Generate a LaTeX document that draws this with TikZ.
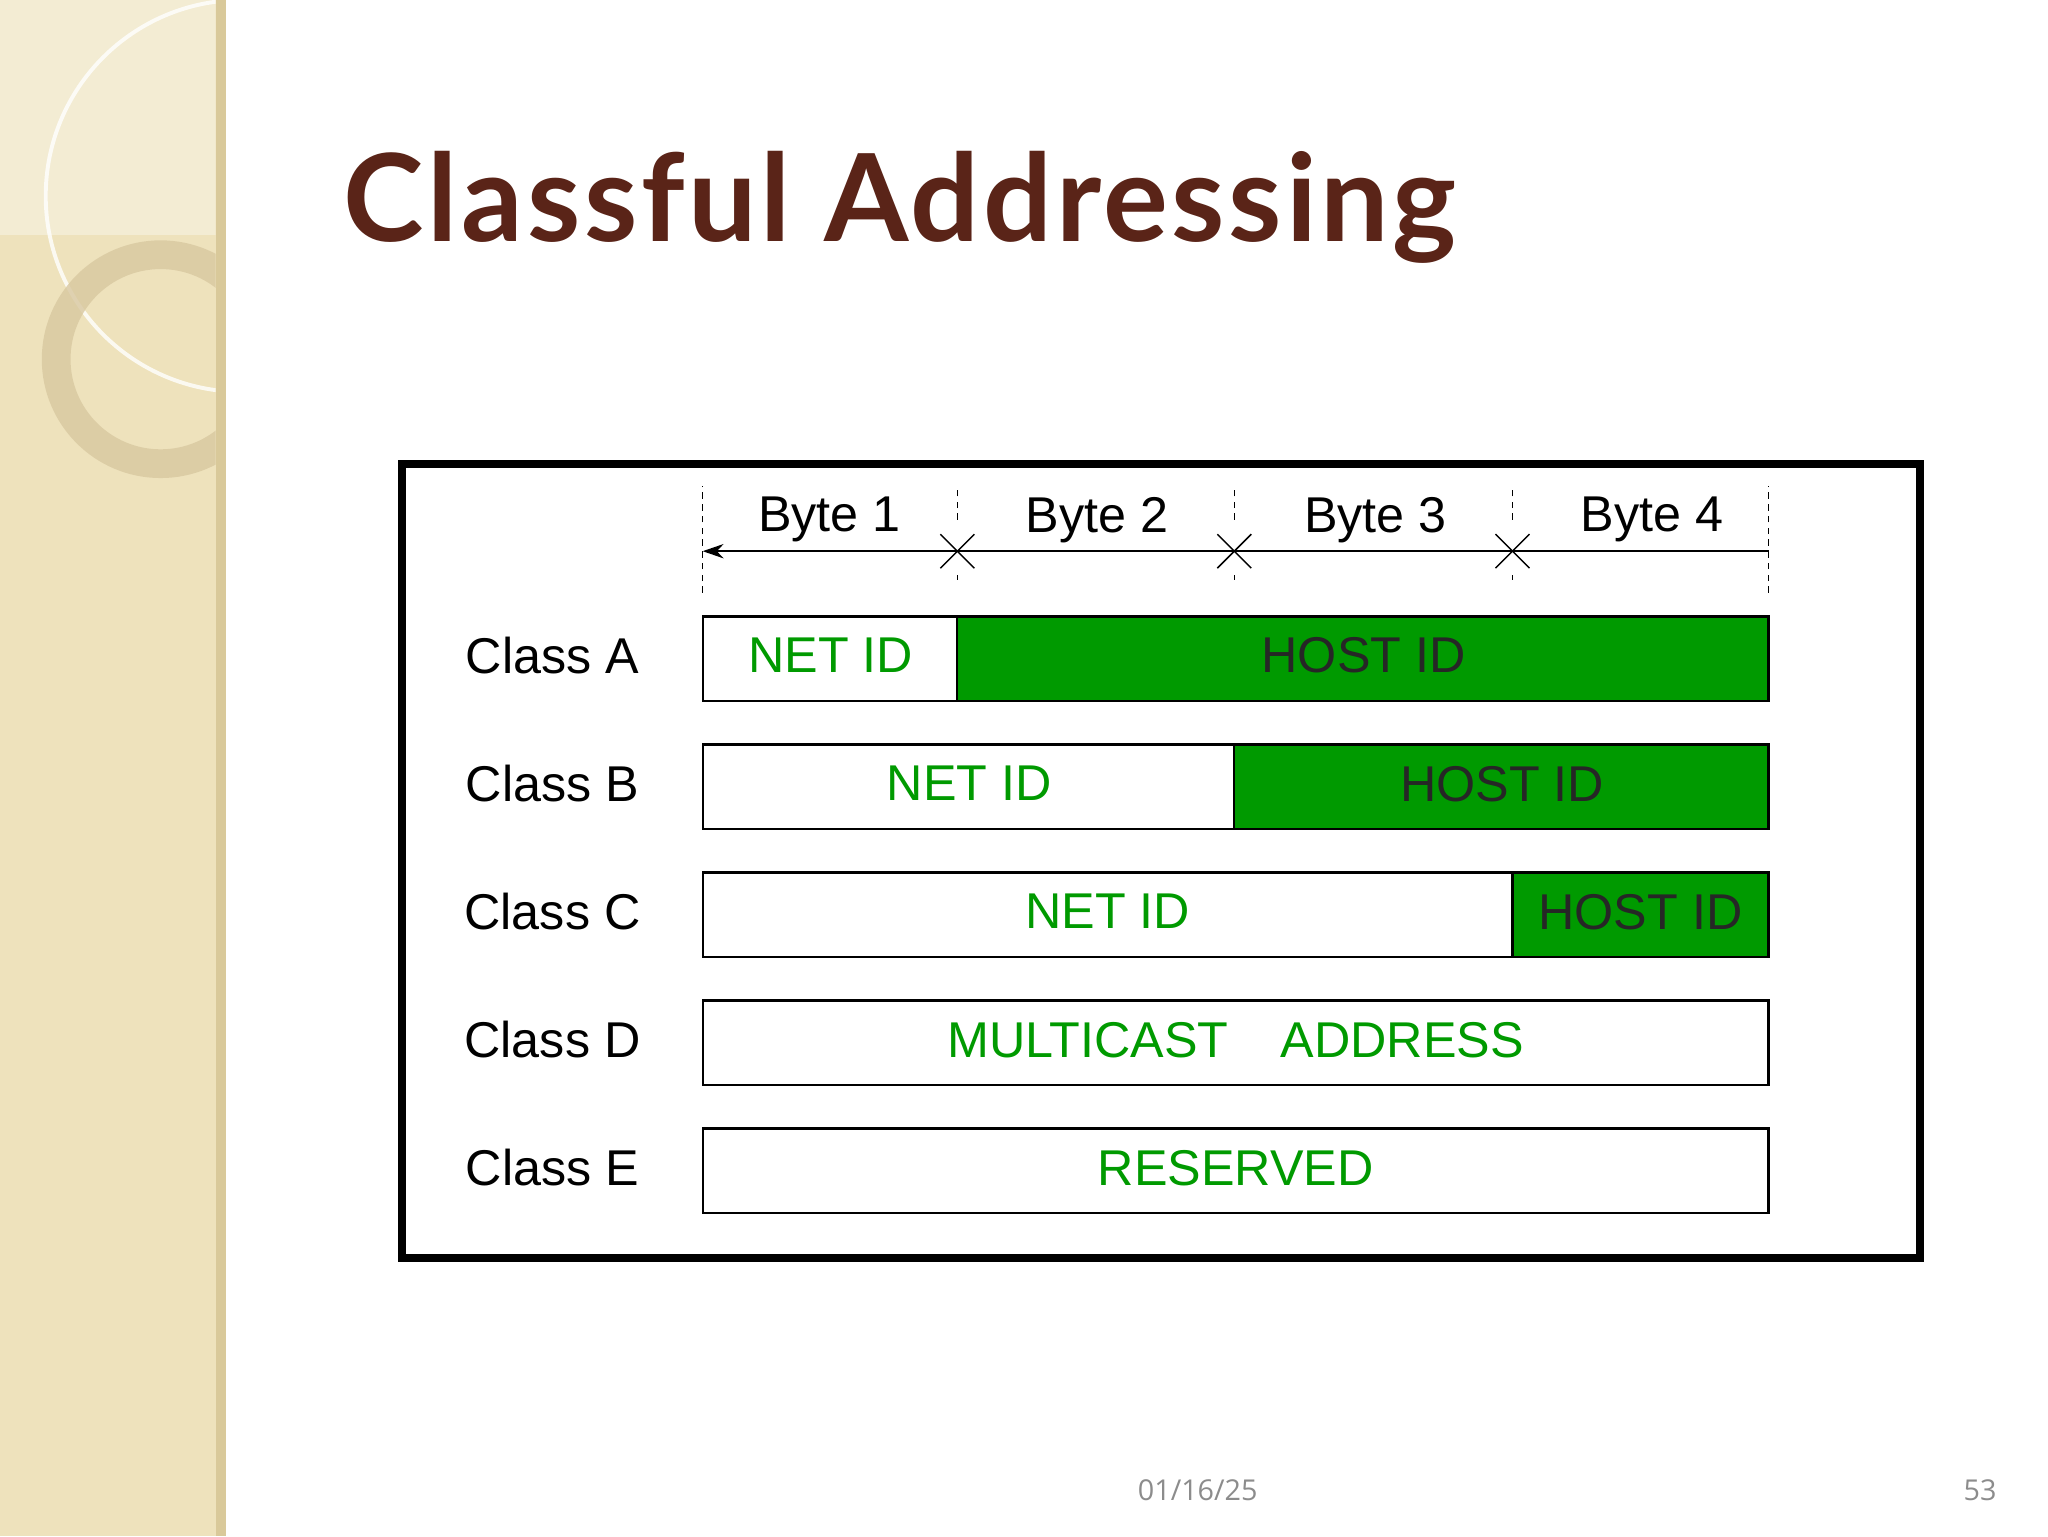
\documentclass[tikz,border=0pt]{standalone}
\usetikzlibrary{arrows.meta}
\usepackage{fontspec}
\setmainfont{Liberation Sans}
\newfontfamily\titlefont{Lato}
\newfontfamily\footfont{Open Sans}
\definecolor{side}{HTML}{EEE2BC}
\definecolor{sidedark}{HTML}{D9C99A}
\definecolor{titlec}{HTML}{5A2418}
\definecolor{gr}{HTML}{009A00}
\definecolor{ring}{HTML}{D8C8A0}
\begin{document}
\begin{tikzpicture}[x=1pt,y=-1pt,
  bar/.style={draw=black,line width=1.6pt},
  lbl/.style={font=\fontsize{38.5}{40}\selectfont,anchor=center,inner sep=0},
  netid/.style={lbl,text=gr},
  hostid/.style={lbl,text=black!85},
  dashln/.style={dashed,dash pattern=on 5pt off 4pt,line width=1.2pt}]
\useasboundingbox (0,0) rectangle (1568,1176);
\fill[white] (0,0) rectangle (1568,1176);
% sidebar
\fill[side] (0,0) rectangle (173,1176);
\fill[sidedark] (165,0) rectangle (173,1176);
\begin{scope}
\clip (0,0) rectangle (165,1176);
\fill[white,opacity=0.35] (0,0) rectangle (185,180);
\draw[white,line width=3pt,opacity=0.8] (185,150) circle (150);
\draw[ring,line width=22pt,opacity=0.8] (123,275) circle (80);
\end{scope}
% title
\node[anchor=base west,inner sep=0,text=titlec,font=\titlefont\bfseries\fontsize{93}{100}\selectfont] (title) at (263,185) {\addfontfeature{LetterSpace=3}Classful Addressing};
% outer box
\draw[line width=6pt] (308,355) rectangle (1470,963);
% header
\coordinate (h0) at (538,422); \coordinate (h1) at (733,422);
\coordinate (h2) at (945,422); \coordinate (h3) at (1158,422);
\coordinate (h4) at (1354,422);
\draw[line width=1.3pt,-{Stealth[length=16pt,width=11pt]}] (h4) -- (h0);
\foreach \c in {h1,h2,h3}{
  \draw[line width=1.1pt] ([shift={(-13,-13)}]\c) -- ([shift={(13,13)}]\c);
  \draw[line width=1.1pt] ([shift={(-13,13)}]\c) -- ([shift={(13,-13)}]\c);
  \draw[dashln] ([yshift=24]\c) -- ([yshift=50]\c);
  \draw[line width=1pt] ([yshift=-22]\c) -- ([yshift=-18]\c);
}
\draw[dashln] ([yshift=-32]h0) -- ([yshift=50]h0);
\draw[dashln] ([yshift=-32]h4) -- ([yshift=50]h4);
\node[lbl] (b1) at (635,398) {Byte 1};
\node[lbl] (b2) at (840,398) {Byte 2};
\node[lbl] (b3) at (1053,398) {Byte 3};
\node[lbl] (b4) at (1265,398) {Byte 4};
% rows
\foreach \y/\n in {502/A,600/B,698/C,796/D,894/E}{
  \node[lbl] (cl\n) at (423,\y) {Class \n};
}
% Class A
\fill[gr] (733,472) rectangle (1354,537);
\draw[bar] (538,472) rectangle (1354,537);
\draw[bar] (733,472) -- (733,537);
\node[netid] (na) at (636,502) {NET ID};
\node[hostid] (ha) at (1044,502) {HOST ID};
% Class B
\fill[gr] (945,570) rectangle (1354,635);
\draw[bar] (538,570) rectangle (1354,635);
\draw[bar] (945,570) -- (945,635);
\node[netid] (nb) at (742,600) {NET ID};
\node[hostid] (hb) at (1150,600) {HOST ID};
% Class C
\fill[gr] (1158,668) rectangle (1354,733);
\draw[bar] (538,668) rectangle (1354,733);
\draw[bar] (1158,668) -- (1158,733);
\node[netid] (nc) at (848,698) {NET ID};
\node[hostid] (hc) at (1256,698) {HOST ID};
% Class D
\draw[bar] (538,766) rectangle (1354,831);
\node[netid] (nd) at (946,796) {MULTICAST\hspace{40pt}ADDRESS};
% Class E
\draw[bar] (538,864) rectangle (1354,929);
\node[netid] (ne) at (946,894) {RESERVED};
% footer
\node[text=black!45,font=\footfont\fontsize{22}{24}\selectfont] (date) at (917,1141) {01/16/25};
\node[text=black!45,font=\footfont\fontsize{22}{24}\selectfont] (pg) at (1516,1141) {53};
\end{tikzpicture}
\end{document}
